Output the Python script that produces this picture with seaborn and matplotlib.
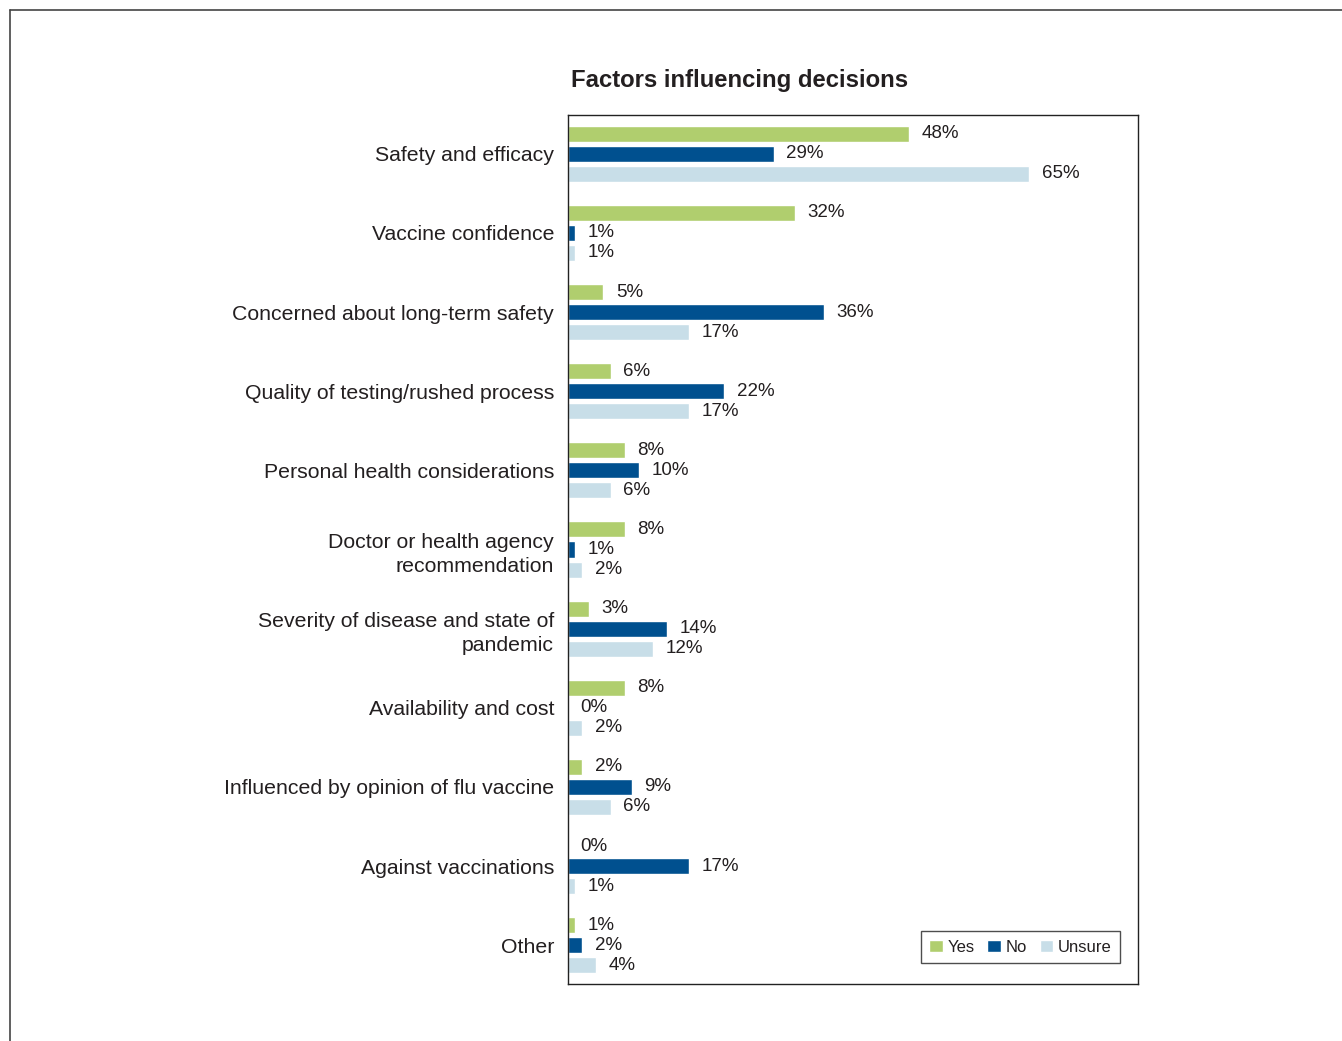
import matplotlib
matplotlib.use("Agg")
import matplotlib.pyplot as plt
from matplotlib.lines import Line2D
import seaborn as sns
import pandas as pd

categories = [
    "Safety and efficacy",
    "Vaccine confidence",
    "Concerned about long-term safety",
    "Quality of testing/rushed process",
    "Personal health considerations",
    "Doctor or health agency\nrecommendation",
    "Severity of disease and state of\npandemic",
    "Availability and cost",
    "Influenced by opinion of flu vaccine",
    "Against vaccinations",
    "Other",
]
yes_vals = [48, 32, 5, 6, 8, 8, 3, 8, 2, 0, 1]
no_vals = [29, 1, 36, 22, 10, 1, 14, 0, 9, 17, 2]
unsure_vals = [65, 1, 17, 17, 6, 2, 12, 2, 6, 1, 4]
series = ["Yes", "No", "Unsure"]
colors = ["#B0CE6E", "#00508F", "#C8DEE8"]

rows = []
for s, vals in zip(series, [yes_vals, no_vals, unsure_vals]):
    for c, v in zip(categories, vals):
        rows.append({"Factor": c, "Response": s, "Percent": v})
df = pd.DataFrame(rows)

sns.set_theme(style="white")
plt.rcParams["font.family"] = ["Liberation Sans", "DejaVu Sans"]
text_color = "#231F20"

fig = plt.figure(figsize=(13.42, 10.41), dpi=100)
ax = fig.add_axes([568 / 1342, 1 - 984 / 1041, 570 / 1342, 869 / 1041])

sns.barplot(data=df, y="Factor", x="Percent", hue="Response", order=categories,
            hue_order=series, palette=colors, orient="h", width=0.76, gap=0.2,
            saturation=1, ax=ax, errorbar=None)

for cont in ax.containers:
    ax.bar_label(cont, labels=[f"{int(round(b.get_width()))}%" for b in cont],
                 padding=9, fontsize=13.5, color=text_color)

ax.set_xlim(0, 80.3)
ax.set_ylim(10.49, -0.49)
ax.set_xlabel("")
ax.set_ylabel("")
ax.set_xticks([])
ax.tick_params(axis="y", length=0, pad=10, labelsize=15.3, labelcolor=text_color)
for lbl in ax.get_yticklabels():
    lbl.set_multialignment("right")
    lbl.set_linespacing(1.35)
for sp in ax.spines.values():
    sp.set_visible(True)
    sp.set_color("#222222")
    sp.set_linewidth(1.0)

handles, labels = ax.get_legend_handles_labels()
leg = ax.legend(handles, labels, ncol=3, loc="lower right",
                bbox_to_anchor=((1120 - 568) / 570, (984 - 963) / 869),
                borderaxespad=0, frameon=True, fancybox=False,
                fontsize=12, handlelength=0.8, handleheight=0.8,
                handletextpad=0.3, columnspacing=0.75, borderpad=0.5,
                labelcolor=text_color)
leg.get_frame().set_edgecolor("#222222")
leg.get_frame().set_linewidth(1.0)

fig.text(739.5 / 1342, 1 - 81 / 1041, "Factors influencing decisions",
         ha="center", va="center", fontsize=17.2, fontweight="bold", color=text_color)

# outer frame lines (top and left)
fig.add_artist(Line2D([10 / 1342, 1.0], [1 - 10 / 1041, 1 - 10 / 1041],
                      transform=fig.transFigure, color="#444444", lw=1.2))
fig.add_artist(Line2D([10 / 1342, 10 / 1342], [0.0, 1 - 10 / 1041],
                      transform=fig.transFigure, color="#444444", lw=1.2))

fig.savefig("out.png", dpi=100, facecolor="white")
